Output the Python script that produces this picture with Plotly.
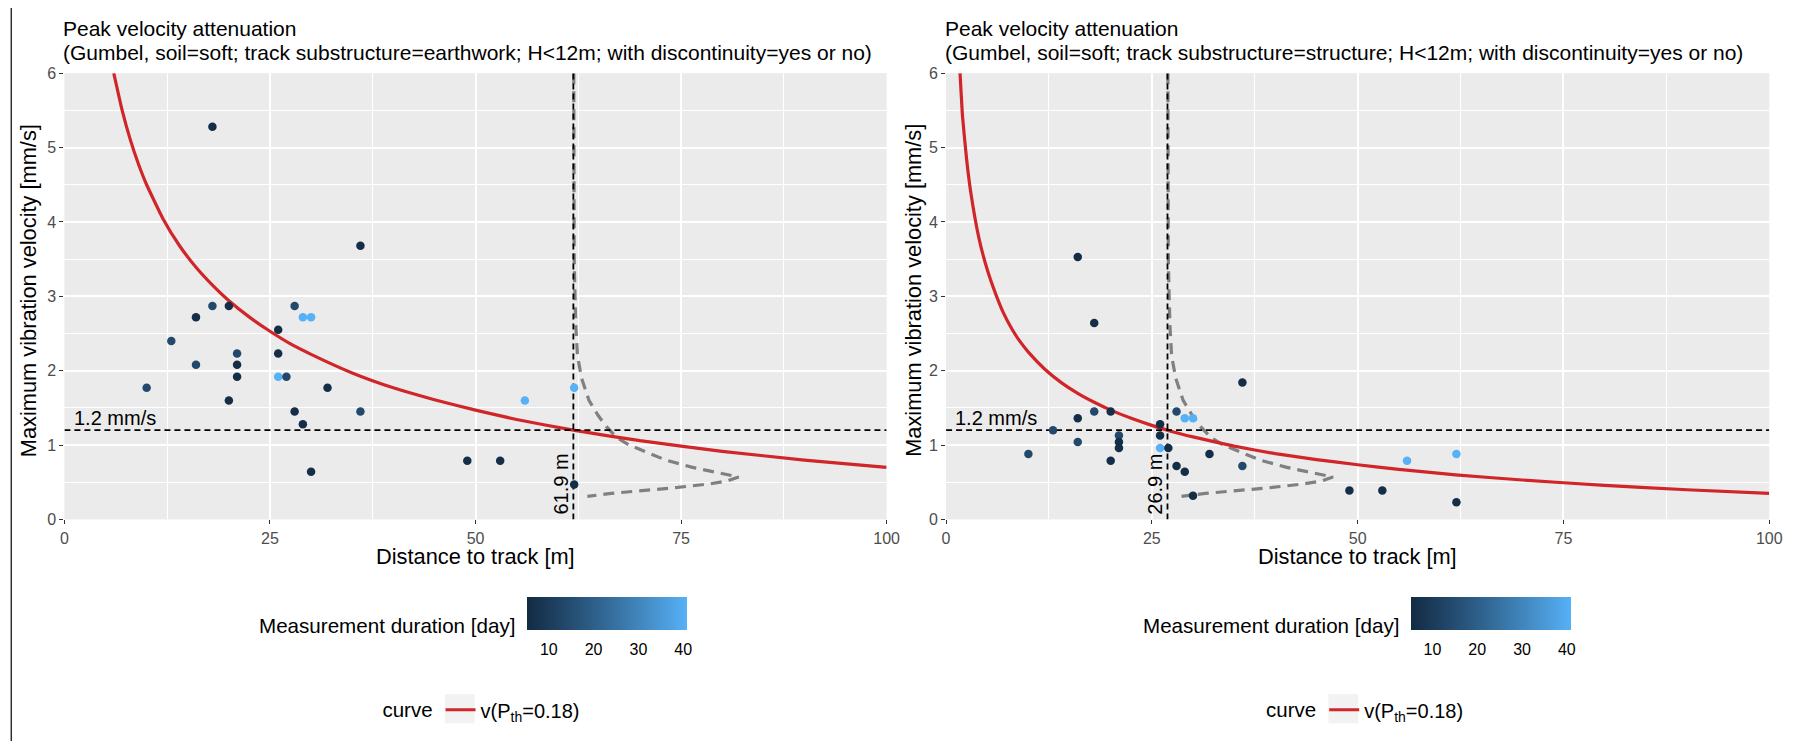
import plotly.graph_objects as go
import numpy as np

# ---------------- data ----------------
# Left panel: track substructure = earthwork
left_dist = [10, 13, 16, 16, 18, 18, 20, 20, 21, 21, 21, 26, 26, 26, 27, 28, 28, 29, 29, 30, 30, 32, 36, 36, 49, 53, 56, 62, 62]
left_vel = [1.77, 2.40, 2.72, 2.08, 5.28, 2.87, 2.87, 1.60, 2.23, 2.08, 1.92, 2.55, 2.23, 1.92, 1.92, 2.87, 1.45,
            2.72, 1.28, 2.72, 0.64, 1.77, 3.68, 1.45, 0.79, 0.79, 1.60, 1.77, 0.47]
left_days = [14, 14, 6, 14, 6, 14, 6, 6, 14, 6, 6, 6, 6, 40.9, 14, 14, 6, 40.9, 6, 40.9, 6, 6, 6, 14, 6, 6, 40.9, 40.9, 6]

# Right panel: track substructure = structure
right_dist = [10, 13, 16, 16, 16, 18, 18, 20, 20, 21, 21, 21, 26, 26, 26, 27, 28, 28, 29, 29, 30, 30, 32, 36, 36, 49, 53, 56, 62, 62]
right_vel = [0.88, 1.20, 3.53, 1.36, 1.04, 2.64, 1.45, 1.45, 0.79, 1.13, 1.04, 0.96, 1.28, 1.13, 0.96, 0.96, 1.45, 0.72,
             1.36, 0.64, 1.36, 0.32, 0.88, 1.84, 0.72, 0.39, 0.39, 0.79, 0.88, 0.23]
right_days = [14, 14, 6, 6, 14, 6, 14, 6, 6, 14, 6, 6, 6, 6, 40.9, 6, 14, 6, 40.9, 6, 40.9, 6, 6, 6, 14, 6, 6, 40.9, 40.9, 6]

# Attenuation curves v(P_th = 0.18)
left_curve_x = [6, 7, 8, 9, 10, 12, 14, 16, 18, 20, 22.5, 25, 27.5, 30, 35, 40, 45, 50, 55, 61.9, 70, 80, 90, 100]
left_curve_v = [6.0, 5.51, 5.11, 4.78, 4.50, 4.04, 3.68, 3.39, 3.15, 2.94, 2.72, 2.53, 2.36, 2.22, 1.97, 1.77,
                1.61, 1.47, 1.344, 1.20, 1.059, 0.916, 0.798, 0.70]
right_curve_x = [1.7, 2, 2.5, 3, 4, 5, 6, 7, 8, 9, 10, 12, 14, 16, 18, 20, 22.5, 25, 27.5, 30, 35, 40, 45, 50, 55,
                 61.9, 70, 80, 90, 100]
right_curve_v = [6.0, 5.42, 4.84, 4.40, 3.78, 3.36, 3.04, 2.77, 2.56, 2.39, 2.25, 2.02, 1.84, 1.695, 1.575, 1.47,
                 1.36, 1.265, 1.18, 1.11, 0.985, 0.885, 0.805, 0.735, 0.672, 0.60, 0.53, 0.458, 0.399, 0.35]

# Gumbel density profile drawn sideways from the threshold distance
density_v = [6.0, 5.0, 4.0, 3.5, 3.0, 2.6, 2.2, 1.9, 1.6, 1.4, 1.25, 1.1, 1.0, 0.9, 0.8, 0.7, 0.63, 0.57,
             0.52, 0.48, 0.43, 0.385, 0.35, 0.31]
density_w = [0.05, 0.06, 0.08, 0.1, 0.2, 0.3, 0.5, 1.0, 1.9, 3.0, 4.0, 5.3, 6.8, 9.0, 11.2, 14.5, 17.5, 20.1,
             18.8, 16.7, 12.7, 7.9, 4.6, 1.7]

V_THRESHOLD = 1.2
left_dist_th = 61.9
right_dist_th = 26.9
DAYS_RANGE = (5.2, 40.9)
DAYS_TICKS = [10, 20, 30, 40]

title_line1 = "Peak velocity attenuation"
title_line2 = [
    "(Gumbel, soil=soft; track substructure=earthwork; H&lt;12m; with discontinuity=yes or no)",
    "(Gumbel, soil=soft; track substructure=structure; H&lt;12m; with discontinuity=yes or no)",
]

# ---------------- helpers ----------------
W, H = 1807, 750
FONT = "Liberation Sans, Arial, sans-serif"


def px(x):
    return x / W


def py(y):
    return 1 - y / H


def _hex_rgb(h):
    h = h.lstrip("#")
    return np.array([int(h[i:i + 2], 16) for i in (0, 2, 4)]) / 255.0


def _to_lab(rgb):
    c = np.where(rgb > 0.04045, ((rgb + 0.055) / 1.055) ** 2.4, rgb / 12.92)
    m = np.array([[0.4124, 0.3576, 0.1805], [0.2126, 0.7152, 0.0722], [0.0193, 0.1192, 0.9505]])
    xyz = m @ c / np.array([0.95047, 1.0, 1.08883])
    f = np.where(xyz > 0.008856, np.cbrt(xyz), 7.787 * xyz + 16 / 116)
    return np.array([116 * f[1] - 16, 500 * (f[0] - f[1]), 200 * (f[1] - f[2])])


def _from_lab(lab):
    fy = (lab[0] + 16) / 116
    f = np.array([fy + lab[1] / 500, fy, fy - lab[2] / 200])
    xyz = np.where(f ** 3 > 0.008856, f ** 3, (f - 16 / 116) / 7.787) * np.array([0.95047, 1.0, 1.08883])
    mi = np.array([[3.2406, -1.5372, -0.4986], [-0.9689, 1.8758, 0.0415], [0.0557, -0.2040, 1.0570]])
    c = mi @ xyz
    c = np.where(c > 0.0031308, 1.055 * np.clip(c, 0, None) ** (1 / 2.4) - 0.055, 12.92 * c)
    c = np.clip(c, 0, 1)
    return "rgb(%d,%d,%d)" % tuple(np.round(c * 255).astype(int))


# low-to-high gradient interpolated in Lab space
lo, hi = _to_lab(_hex_rgb("#132B43")), _to_lab(_hex_rgb("#56B1F7"))
colorscale = [[t, _from_lab(lo + (hi - lo) * t)] for t in np.linspace(0, 1, 11)]

fig = go.Figure()

panels = [
    dict(xa="x", ya="y", dist=left_dist, vel=left_vel, days=left_days, cx=left_curve_x, cv=left_curve_v,
         dth=left_dist_th, cax="coloraxis", legend="legend"),
    dict(xa="x2", ya="y2", dist=right_dist, vel=right_vel, days=right_days, cx=right_curve_x, cv=right_curve_v,
         dth=right_dist_th, cax="coloraxis2", legend="legend2"),
]

for p in panels:
    # sideways density
    fig.add_trace(go.Scatter(
        x=[p["dth"] + w for w in density_w], y=density_v, mode="lines",
        line=dict(color="#808080", width=3.2, dash="11px,7px"),
        xaxis=p["xa"], yaxis=p["ya"], showlegend=False, hoverinfo="skip"))
    # attenuation curve
    fig.add_trace(go.Scatter(
        x=p["cx"], y=p["cv"], mode="lines", line=dict(color="#D0262A", width=3.2, shape="spline", smoothing=0.4),
        name="v(P<sub>th</sub>=0.18)", legend=p["legend"], xaxis=p["xa"], yaxis=p["ya"], showlegend=True))
    # threshold lines
    fig.add_trace(go.Scatter(
        x=[0, 100], y=[V_THRESHOLD, V_THRESHOLD], mode="lines", line=dict(color="black", width=1.8, dash="6px,4px"),
        xaxis=p["xa"], yaxis=p["ya"], showlegend=False, hoverinfo="skip"))
    fig.add_trace(go.Scatter(
        x=[p["dth"], p["dth"]], y=[0, 6], mode="lines", line=dict(color="black", width=1.8, dash="6px,4px"),
        xaxis=p["xa"], yaxis=p["ya"], showlegend=False, hoverinfo="skip"))
    # measurements
    fig.add_trace(go.Scatter(
        x=p["dist"], y=p["vel"], mode="markers",
        marker=dict(size=8.5, color=p["days"], coloraxis=p["cax"], line=dict(width=0)),
        xaxis=p["xa"], yaxis=p["ya"], showlegend=False))

axis_common = dict(
    showgrid=True, gridcolor="white", gridwidth=1.6, zeroline=False, showline=False,
    ticks="outside", ticklen=4, tickwidth=1.1, tickcolor="#333333",
    tickfont=dict(family=FONT, size=16, color="#4D4D4D"),
)
xdoms = [[px(61), px(891)], [px(951), px(1782)]]
ydom = [py(523.3), py(66.7)]

for i, sfx in enumerate(["", "2"]):
    fig.layout["xaxis" + sfx] = dict(
        axis_common, domain=xdoms[i], range=[0, 100], tickvals=[0, 25, 50, 75, 100], anchor="y" + sfx,
        minor=dict(tickvals=[12.5, 37.5, 62.5, 87.5], showgrid=True, gridcolor="white", gridwidth=0.8, ticks=""))
    fig.layout["yaxis" + sfx] = dict(
        axis_common, domain=ydom, range=[0, 6], tickvals=[0, 1, 2, 3, 4, 5, 6], anchor="x" + sfx,
        minor=dict(tickvals=[0.5, 1.5, 2.5, 3.5, 4.5, 5.5], showgrid=True, gridcolor="white", gridwidth=0.8,
                   ticks=""))

# colour bars (horizontal, below each panel)
CB_LEN, CB_TOP, CB_BOTTOM = 160, 603, 636
cb_centers = [609, 1501]
cb_common = dict(orientation="h", lenmode="pixels", len=CB_LEN, thickness=CB_BOTTOM - CB_TOP, outlinewidth=0,
                 ticks="outside", ticklen=6, tickcolor="rgba(0,0,0,0)", tickvals=DAYS_TICKS,
                 tickfont=dict(family=FONT, size=16, color="black"), xpad=0, ypad=0,
                 xanchor="center", yanchor="top", y=py(CB_TOP))
fig.layout.coloraxis = dict(colorscale=colorscale, cmin=DAYS_RANGE[0], cmax=DAYS_RANGE[1],
                            colorbar=dict(cb_common, x=px(cb_centers[0])))
fig.layout.coloraxis2 = dict(colorscale=colorscale, cmin=DAYS_RANGE[0], cmax=DAYS_RANGE[1],
                             colorbar=dict(cb_common, x=px(cb_centers[1])))

leg_common = dict(orientation="h", title=dict(text="curve", side="left", font=dict(family=FONT, size=20.5)),
                  font=dict(family=FONT, size=20, color="black"), bgcolor="rgba(0,0,0,0)",
                  itemwidth=30, xanchor="left", yanchor="middle", y=py(718))
fig.layout.legend = dict(leg_common, x=px(380))
fig.layout.legend2 = dict(leg_common, x=px(1272))

annotations = []
shapes = []
centers = [(61 + 891) / 2, (951 + 1782) / 2]
ylab_x = [25, 918]
cbtitle_right = [518, 1410]
key_left = [445, 1337]
for i, sfx in enumerate(["", "2"]):
    for txt, yc in ((title_line1, 21), (title_line2[i], 46)):
        annotations.append(dict(text=txt, xref="paper", yref="paper", x=px([59, 949][i]), y=py(yc),
                                xanchor="left", yanchor="middle", showarrow=False, borderpad=0,
                                font=dict(family=FONT, size=21, color="black")))
    annotations.append(dict(text="Maximum vibration velocity [mm/s]", xref="paper", yref="paper",
                            x=px(ylab_x[i]), y=py(289), textangle=-90, showarrow=False,
                            xanchor="center", yanchor="middle", font=dict(family=FONT, size=21.8, color="black")))
    annotations.append(dict(text="Distance to track [m]", xref="paper", yref="paper",
                            x=px(centers[i]), y=py(561), showarrow=False, borderpad=0,
                            xanchor="center", yanchor="middle", font=dict(family=FONT, size=21.8, color="black")))
    annotations.append(dict(text="Measurement duration [day]", xref="paper", yref="paper",
                            x=px(cbtitle_right[i]), y=py(632), showarrow=False,
                            xanchor="right", yanchor="middle", font=dict(family=FONT, size=20.6, color="black")))
    annotations.append(dict(text="1.2 mm/s", xref="x" + sfx, yref="y" + sfx, x=1, y=V_THRESHOLD,
                            xanchor="left", yanchor="bottom", showarrow=False, borderpad=0,
                            font=dict(family=FONT, size=20, color="black")))
    dth = [left_dist_th, right_dist_th][i]
    annotations.append(dict(text=f"{dth} m", xref="x" + sfx, yref="y" + sfx, x=dth, y=0.05,
                            textangle=-90, xanchor="right", yanchor="bottom", showarrow=False, borderpad=0,
                            font=dict(family=FONT, size=20, color="black")))
    # grey legend key behind the curve sample
    shapes.append(dict(type="rect", xref="paper", yref="paper", x0=px(key_left[i]), x1=px(key_left[i] + 30),
                       y0=py(732), y1=py(702), fillcolor="#F2F2F2", line=dict(width=0), layer="below"))
    # white tick marks on the top and bottom edges of the colour bar
    bar_left = cb_centers[i] - CB_LEN / 2
    for v in DAYS_TICKS:
        xt = bar_left + (v - DAYS_RANGE[0]) / (DAYS_RANGE[1] - DAYS_RANGE[0]) * CB_LEN
        for y0, y1 in ((CB_TOP, CB_TOP + 6), (CB_BOTTOM - 6, CB_BOTTOM)):
            shapes.append(dict(type="line", xref="paper", yref="paper", x0=px(xt), x1=px(xt),
                               y0=py(y0), y1=py(y1), line=dict(color="white", width=1)))

shapes.append(dict(type="line", xref="paper", yref="paper", x0=px(7.3), x1=px(7.3), y0=0, y1=1,
                   line=dict(color="black", width=1.2)))

fig.update_layout(
    width=W, height=H, margin=dict(l=0, r=0, t=0, b=0),
    paper_bgcolor="white", plot_bgcolor="#EBEBEB",
    font=dict(family=FONT, color="black"),
    annotations=annotations, shapes=shapes,
)

fig.write_html("out.html")
